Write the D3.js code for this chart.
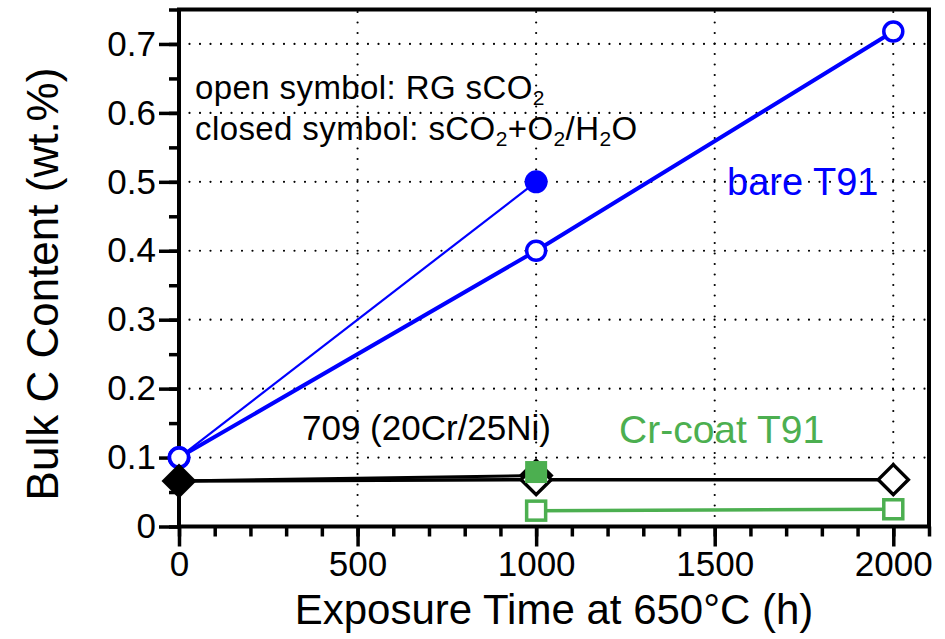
<!DOCTYPE html>
<html><head><meta charset="utf-8">
<script src="https://cdn.jsdelivr.net/npm/d3@7"></script>
<style>body{margin:0;background:#fff}svg{display:block}text{font-family:"Liberation Sans",Arial,sans-serif}</style>
</head><body>
<svg id="c" width="945" height="639"></svg>
<script>
const xTicks = [0, 500, 1000, 1500, 2000];
const yTicks = [0, 0.1, 0.2, 0.3, 0.4, 0.5, 0.6, 0.7];
const times = [0, 1000, 2000];
const bareOpen = [0.1, 0.4, 0.718];
const bareClosedT = [0, 1000];
const bareClosed = [0.1, 0.5];
const alloyOpen = [0.066, 0.068, 0.068];
const alloyClosedT = [0, 1000];
const alloyClosed = [0.066, 0.074];
const crOpenT = [1000, 2000];
const crOpen = [0.023, 0.025];
const crClosedT = [1000];
const crClosed = [0.079];

const BLUE = "#0000ff", GREEN = "#4caf50", BLACK = "#000";
const svg = d3.select("#c");
const L = 179, R = 929, T = 9.5, B = 526.5;
const x = d3.scaleLinear().domain([0, 2100]).range([L, R]);
const y = d3.scaleLinear().domain([0, 0.75]).range([B, T]);

// grid
const g = svg.append("g");
g.selectAll(".gy").data(yTicks.filter(d => d > 0)).join("line")
  .attr("x1", L).attr("x2", R).attr("y1", d => y(d)).attr("y2", d => y(d))
  .attr("stroke", "#000").attr("stroke-width", 2.2).attr("stroke-dasharray", "0 10.5").attr("stroke-linecap", "round");
g.selectAll(".gx").data(xTicks.filter(d => d > 0)).join("line")
  .attr("y1", B).attr("y2", T).attr("x1", d => x(d)).attr("x2", d => x(d))
  .attr("stroke", "#000").attr("stroke-width", 2.2).attr("stroke-dasharray", "0 10.5").attr("stroke-linecap", "round");

// axes
const ax = svg.append("g").attr("transform", `translate(0,${B})`)
  .call(d3.axisBottom(x).tickValues(d3.range(0, 2101, 100)).tickSize(10).tickFormat(""));
const ax2 = svg.append("g").attr("transform", `translate(0,${B})`)
  .call(d3.axisBottom(x).tickValues(xTicks).tickSize(20).tickPadding(5).tickFormat(d3.format("d")));
const ay = svg.append("g").attr("transform", `translate(${L},0)`)
  .call(d3.axisLeft(y).tickValues(d3.range(0, 0.76, 0.05)).tickSize(10).tickFormat(""));
const ay2 = svg.append("g").attr("transform", `translate(${L},0)`)
  .call(d3.axisLeft(y).tickValues(yTicks).tickSize(20).tickPadding(3).tickFormat(d => d === 0 ? "0" : d3.format(".1f")(d)));
[ax, ax2, ay, ay2].forEach(a => {
  a.select(".domain").remove();
  a.selectAll(".tick line").attr("stroke", "#000").attr("stroke-width", 3.5);
  a.selectAll(".tick text").attr("fill", "#000").style("font-size", "35px").style("font-family", '"Liberation Sans",Arial,sans-serif');
});
svg.append("rect").attr("x", L).attr("y", T).attr("width", R - L).attr("height", B - T)
  .attr("fill", "none").attr("stroke", "#000").attr("stroke-width", 4);

// titles
svg.append("text").attr("x", 554).attr("y", 624).attr("text-anchor", "middle")
  .style("font-size", "42px").text("Exposure Time at 650°C (h)");
svg.append("text").attr("transform", `translate(58,284) rotate(-90)`).attr("text-anchor", "middle")
  .style("font-size", "44px").text("Bulk C Content (wt.%)");

// lines
const line = d3.line().x(d => x(d[0])).y(d => y(d[1]));
function drawLine(ts, vs, color, w) {
  svg.append("path").datum(ts.map((t, i) => [t, vs[i]])).attr("d", line)
    .attr("fill", "none").attr("stroke", color).attr("stroke-width", w);
}
drawLine(times, alloyOpen, BLACK, 3.5);
drawLine(alloyClosedT, alloyClosed, BLACK, 3);
drawLine(crOpenT, crOpen, GREEN, 3.5);
drawLine(bareClosedT, bareClosed, BLUE, 2.2);
drawLine(times, bareOpen, BLUE, 4);

// markers
function circles(ts, vs, filled) {
  svg.append("g").selectAll("circle").data(ts.map((t, i) => [t, vs[i]])).join("circle")
    .attr("cx", d => x(d[0])).attr("cy", d => y(d[1])).attr("r", filled ? 11.5 : 9.5)
    .attr("fill", filled ? BLUE : "#fff").attr("stroke", BLUE).attr("stroke-width", filled ? 0 : 3.5);
}
function diamonds(ts, vs, filled) {
  const s = filled ? 17.5 : 15;
  svg.append("g").selectAll("path").data(ts.map((t, i) => [t, vs[i]])).join("path")
    .attr("d", d => `M${x(d[0])},${y(d[1]) - s}L${x(d[0]) + s},${y(d[1])}L${x(d[0])},${y(d[1]) + s}L${x(d[0]) - s},${y(d[1])}Z`)
    .attr("fill", filled ? BLACK : "#fff").attr("stroke", BLACK).attr("stroke-width", filled ? 0 : 3.5);
}
function squares(ts, vs, filled) {
  const s = filled ? 11 : 9.5;
  svg.append("g").selectAll("rect").data(ts.map((t, i) => [t, vs[i]])).join("rect")
    .attr("x", d => x(d[0]) - s).attr("y", d => y(d[1]) - s).attr("width", 2 * s).attr("height", 2 * s)
    .attr("fill", filled ? GREEN : "#fff").attr("stroke", GREEN).attr("stroke-width", filled ? 0 : 3.5);
}
circles(bareClosedT, bareClosed, true);
circles(times, bareOpen, false);
diamonds(alloyClosedT, alloyClosed, true);
diamonds(times.slice(1), alloyOpen.slice(1), false);
squares(crOpenT, crOpen, false);
squares(crClosedT, crClosed, true);

// annotations
const FS = 33, SS = 21, SD = 6;
const a1 = svg.append("text").attr("x", 195).attr("y", 99).style("font-size", FS + "px").style("letter-spacing", "0.4px");
a1.append("tspan").text("open symbol: RG sCO");
a1.append("tspan").attr("dy", SD).style("font-size", SS + "px").text("2");
const a2 = svg.append("text").attr("x", 195).attr("y", 140).style("font-size", FS + "px").style("letter-spacing", "0.4px");
a2.append("tspan").text("closed symbol: sCO");
a2.append("tspan").attr("dy", SD).style("font-size", SS + "px").text("2");
a2.append("tspan").attr("dy", -SD).text("+O");
a2.append("tspan").attr("dy", SD).style("font-size", SS + "px").text("2");
a2.append("tspan").attr("dy", -SD).text("/H");
a2.append("tspan").attr("dy", SD).style("font-size", SS + "px").text("2");
a2.append("tspan").attr("dy", -SD).text("O");
svg.append("text").attr("x", 727).attr("y", 195).attr("fill", BLUE).style("font-size", "38px").text("bare T91");
svg.append("text").attr("x", 619).attr("y", 443).attr("fill", GREEN).style("font-size", "39px").text("Cr-coat T91");
svg.append("text").attr("x", 302).attr("y", 440).attr("fill", BLACK).style("font-size", "35px").text("709 (20Cr/25Ni)");
</script>
</body></html>
